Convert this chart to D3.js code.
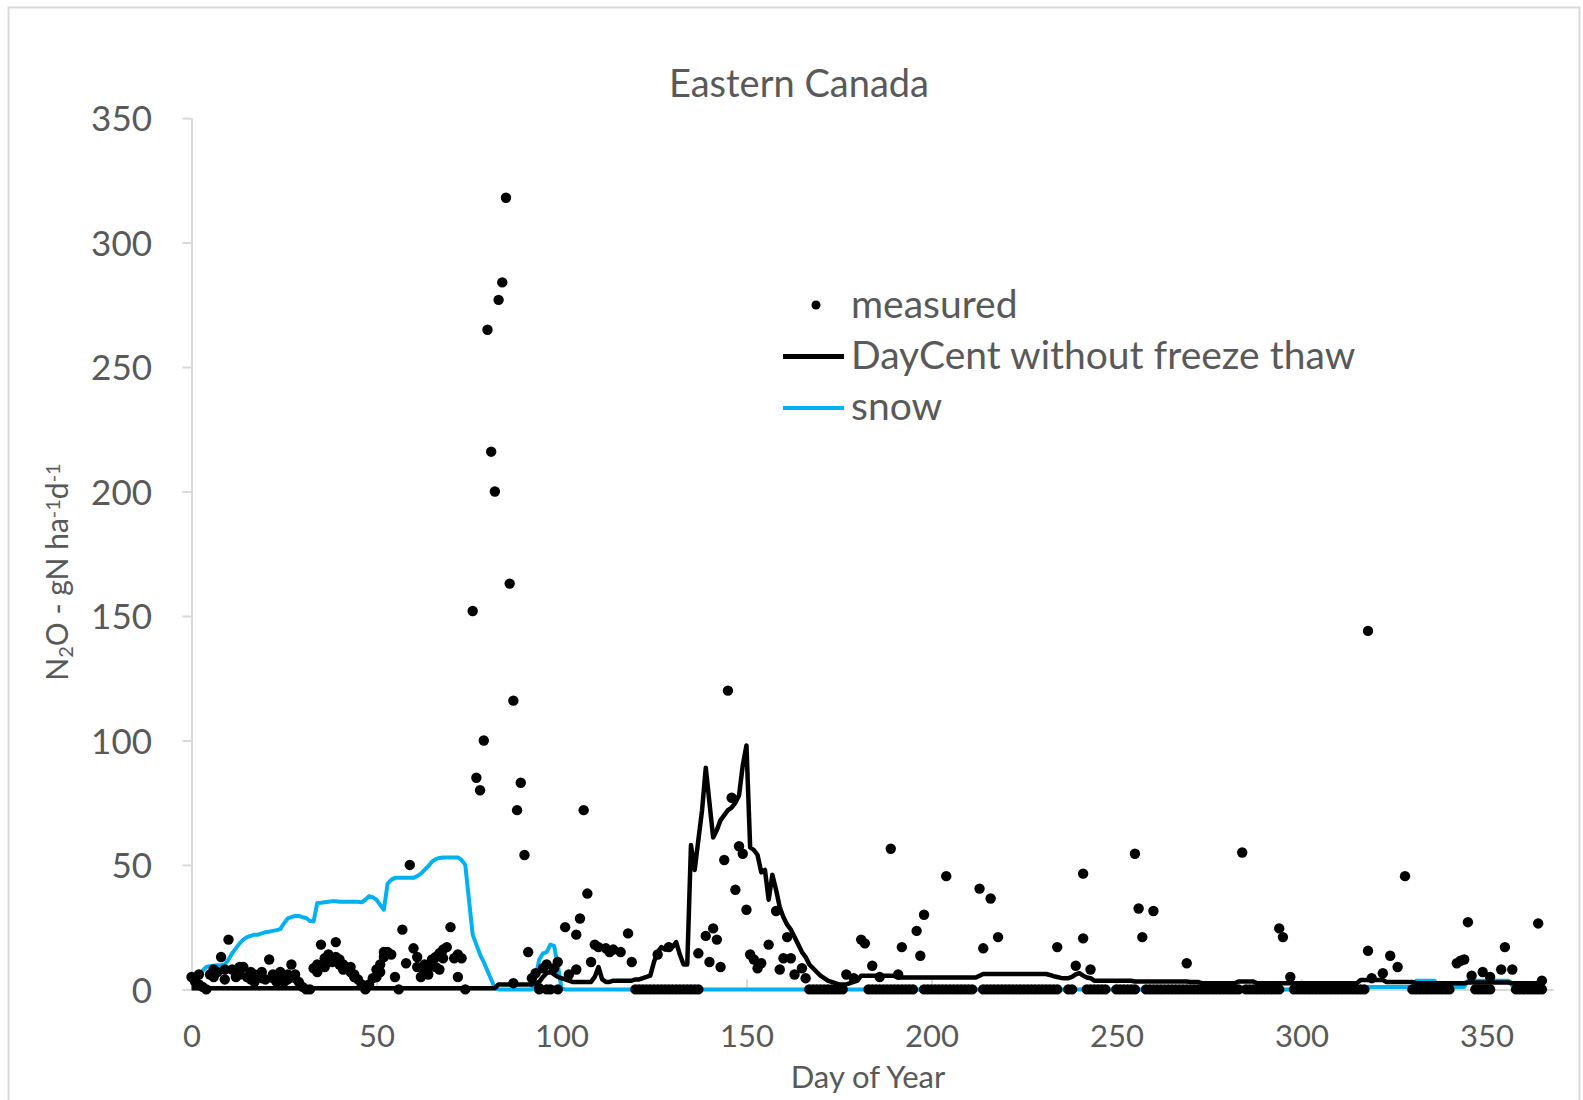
<!DOCTYPE html>
<html>
<head>
<meta charset="utf-8">
<script src="https://cdn.jsdelivr.net/npm/d3@7"></script>
<style>
  body { margin: 0; background: #fff; }
  svg { display: block; }
  text { font-family: Lato, "Open Sans", sans-serif; fill: #595959; }
</style>
</head>
<body>
<svg id="chart" width="1583" height="1100"></svg>
<script>
// Axis ticks
const xTicks = [0, 50, 100, 150, 200, 250, 300, 350];
const yTicks = [0, 50, 100, 150, 200, 250, 300, 350];

// DayCent simulated N2O flux (no freeze-thaw), one value per day of year 0..365
const dayCent = [
  0.5,0.5,0.5,0.5,0.5,0.5,0.5,0.5,0.5,0.5,
  0.5,0.5,0.5,0.5,0.5,0.5,0.5,0.5,0.5,0.5,
  0.5,0.5,0.5,0.5,0.5,0.5,0.5,0.5,0.5,0.5,
  0.5,0.5,0.5,0.5,0.5,0.5,0.5,0.5,0.5,0.5,
  0.5,0.5,0.5,0.5,0.5,0.5,0.5,0.5,0.5,0.5,
  0.5,0.5,0.5,0.5,0.5,0.5,0.5,0.5,0.5,0.5,
  0.5,0.5,0.5,0.5,0.5,0.5,0.5,0.5,0.5,0.5,
  0.5,0.5,0.5,0.5,0.5,0.5,0.5,0.5,0.5,0.5,
  0.5,0.5,0.5,2,2,2,2,2,2,2,
  2,2,2,2.5,3,5,6.5,7,6,5,
  4.5,4,3.5,3,3,3,3,3,3,5,
  9,4,3,3,3.5,3.5,3.5,3.5,3.5,3.5,
  4,4,4.5,5,5.5,11,15,17,16,18,
  17,19,14,10,10,58,48,60,72,89,
  75,61,64,68,70,72,73,75,78,90,
  98,57,56,54,47,48,36,46,40,33,
  29,26,24,21,18,15,13,10,8.5,7,
  5.5,4.5,3.5,3,2.5,2,2,2,2.5,3,
  3.5,5.5,5.5,5.5,5.5,5.5,5.5,5.5,5.5,5.5,
  5.5,4.8,4.8,4.8,4.8,4.8,4.8,4.8,4.8,4.8,
  4.8,4.8,4.8,4.8,4.8,4.8,4.8,4.8,4.8,4.8,
  4.8,4.8,4.8,5.5,6.2,6.2,6.2,6.2,6.2,6.2,
  6.2,6.2,6.2,6.2,6.2,6.2,6.2,6.2,6.2,6.2,
  6.2,6.2,5.8,5.3,5,4.6,4.5,4.5,5,6,
  6.5,5.5,4.8,4.5,3.5,3.5,3.5,3.5,3.5,3.5,
  3.5,3.5,3.5,3.5,3.5,3.2,3.2,3.2,3.2,3.2,
  3.2,3.2,3.2,3.2,3.2,3.2,3.2,3.2,3.2,3.2,
  3,3,3,2.5,2.5,2.5,2.5,2.5,2.5,2.5,
  2.5,2.5,2.5,3.2,3.2,3.2,3.2,3.2,2.5,2.5,
  2.5,2.5,2.5,2.5,2.5,2.5,2.5,2.5,2.5,2.5,
  2.5,2.5,2.5,2.5,2.5,2.5,2.5,2.5,2.5,2.5,
  2.5,2.5,2.5,2.5,2.5,2.5,3.8,3.8,3.8,3.8,
  3.8,3.8,3.8,3,3,3,3,3,3,3,
  3,2.5,2.5,2.5,2.5,2.5,2.5,2.5,2.5,2.5,
  2.5,2.5,2.5,2.5,2.5,2.8,2.8,2.8,2.8,2.8,
  2.8,2.8,2.8,2.8,2.8,2.8,2.8,2.5,2.5,2.5,
  2.5,2.5,2.5,2.5,2.5,2.5
];

// Snow depth, same daily index (null = no record)
const snow = [
  null,3,5,7.5,9,9.3,9.5,9.7,9.8,10,
  12,14.5,16.5,18.5,20,21,21.5,22,22,22.5,
  23,23.2,23.5,23.8,24.2,26.5,28.5,29,29.5,29.5,
  29,28.7,27.5,27.3,34.7,34.8,35,35.2,35.4,35.4,
  35.2,35.2,35.2,35.2,35.2,35.2,35,36,37.4,37,
  36,34,32,42.5,44,44.8,44.8,44.8,44.8,44.8,
  44.8,45.5,46.5,48,49.5,51.3,52.3,52.8,53,53,
  53,53,53,52,50,36,22,18,14,11,
  7.5,4,0.5,0,0,0,0,0,0,0,
  0,0,0,5,12,14.5,15,18,17.5,10,
  0.5,0,0,0,0,0,0,0,0,0,
  0,0,0,0,0,0,0,0,0,0,
  0,0,0,0,0,0,0,0,0,0,
  0,0,0,0,0,0,0,0,0,0,
  0,0,0,0,0,0,0,0,0,0,
  0,0,0,0,0,0,0,0,0,0,
  0,0,0,0,0,0,0,0,0,0,
  0,0,0,0,0,0,0,0,0,0,
  0,0,0,0,0,0,0,0,0,0,
  0,0,0,0,0,0,0,0,0,0,
  0,0,0,0,0,0,0,0,0,0,
  0,0,0,0,0,0,0,0,0,0,
  0,0,0,0,0,0,0,0,0,0,
  0,0,0,0,0,0,0,0,0,0,
  0,0,0,0,0,0,0,0,0,0,
  0,0,0,0,0,0,0,0,0,0,
  0,0,0,0,0,0,0,0,0,0,
  0,0,0,0,0,0,0,0,0,0,
  0,0,0,0,0,0,0,0,0,0,
  0,0,0,0,0,0,0,0,0,0,
  0,0,0,0,0,0,0,0,0,0,
  0,0,0,0,0,1,1,1,1,1,
  1,1,1,1,1,1,1,1,1,1,
  1,3.5,3.5,3.5,3.5,3.5,3.5,1,1,1,
  1,1,1,1,1,3.5,3.5,3.5,3.5,3.5,
  3.5,3.5,3.5,3.5,3.5,3.5,3.5,1.5,1.5,1.5,
  1.5,1.5,1.5,1.5,1.5,1.5
];

// Measured N2O flux, [day, gN ha-1 d-1]
const measured = [
  [0,5],[1,3],[2,2],[2,6],[3,1],[5,6],[6,5],[6,8],[7,7],[8,13],[9,8],[9,4],[10,20],
  [11,8],[12,7],[12,5],[13,6],[13,9],[14,9],[15,5],[16,7],[16,4],[17,6],[17,3],[18,5],[19,4.5],[19,7],[20,4],
  [21,12],[22,4.5],[22,6],[23,4],[23,3],[24,5],[24,7],[25,3],[26,4],[26,6],[27,10],[28,4.5],[28,6],[29,3],[30,1],
  [33,8.5],[34,10],[34,7],[35,18],[36,12.5],[36,9],[37,12],[37,14],[38,11],[39,19],[39,13],[40,12],[40,10],[41,10],[41,8],
  [42,8.5],[43,7],[43,9],[44,6],[44,5],[45,4],[46,2],[48,2],[49,4.5],[50,8],[50,5],[51,10],[51,7],[52,13],[52,15],
  [53,15],[54,14],[55,5],[57,24],[58,10.5],[59,50],[60,16.5],[61,13],[61,9],[62,5],[63,7],[63,10],
  [64,8.5],[64,6],[65,12],[66,13],[66,9],[67,14.5],[67,8],[68,12.5],[68,16],[69,17],[70,25],[71,12.5],[72,5],[72,14],[73,12.5],
  [76,152],[77,85],[78,80],[79,100],[80,265],[81,216],[82,200],[83,277],[84,284],[85,318],
  [86,163],[87,116],[87,2.5],[88,72],[89,83],[90,54],[91,15],
  [92,4.5],[93,6.5],[94,0.5],[95,8.5],[96,10],[98,8.5],[99,11],[101,25],[102,6],[104,22],
  [104,8],[105,28.5],[106,72],[107,38.5],[108,11],[109,18],[110,17],[112,16.5],[113,15],[114,16],
  [116,15],[118,22.5],[119,11],[126,14],[129,17],
  [137,14.5],[139,21.5],[140,11],[141,24.5],[142,20],[143,9],[144,52],[145,120],[146,77],[147,40],
  [148,57.5],[149,54.5],[150,32],[151,14],[152,12],[153,8.5],[154,10.5],[156,18],[158,31.5],[159,8],
  [160,12.5],[161,21],[162,12.5],[163,6],[165,8.5],[166,4.5],
  [177,6],[179,4.5],[181,20],[182,18.5],[184,9.5],[186,5],[189,56.5],[191,6],[192,17],[196,23.5],
  [197,13.5],[198,30],[204,45.5],[213,40.5],[214,16.5],[216,36.5],[218,21],[234,17],[239,9.5],[241,46.5],
  [241,20.5],[243,8],[255,54.5],[256,32.5],[257,21],[260,31.5],[269,10.5],
  [284,55],[294,24.5],[295,21],[297,5],[318,144],[318,15.5],[319,4.5],[322,6.5],[324,13.5],[326,9],
  [328,45.5],[342,10.5],[343,11.5],[344,12],[345,27],[346,5.5],[349,7],[351,5],[354,8],[355,17],
  [357,8],[364,26.5],[365,3.5]
];

// Days on which the measured flux was zero
const measuredZeroDays = [
  4,31,32,47,56,74,94,96,97,99,
  120,121,122,123,124,125,126,127,128,129,130,131,132,133,134,135,136,137,
  167,168,169,170,171,172,173,174,175,176,
  183,184,185,186,187,188,189,190,191,192,193,194,195,
  198,199,200,201,202,203,204,205,206,207,208,209,210,211,
  214,215,216,217,218,219,220,221,222,223,224,225,226,227,228,229,230,231,232,233,234,
  237,238,
  242,243,244,245,246,247,
  250,251,252,253,254,255,
  258,259,260,261,262,263,264,265,266,267,268,269,270,271,272,273,274,275,276,277,278,279,280,281,282,283,
  285,286,287,288,289,290,291,292,293,294,
  298,299,300,301,302,303,304,305,306,307,308,309,310,311,312,313,314,315,316,317,
  330,331,332,333,334,335,336,337,338,339,340,
  347,348,349,350,351,
  358,359,360,361,362,363,364,365
];

const svg = d3.select('#chart');

const x = d3.scaleLinear().domain([0, 368]).range([191.5, 1553]);
const y = d3.scaleLinear().domain([0, 350]).range([989.4, 118.1]);

// chart frame
svg.append('rect')
  .attr('x', 8.5).attr('y', 7.5)
  .attr('width', 1571).attr('height', 1110)
  .attr('fill', 'none').attr('stroke', '#d9d9d9').attr('stroke-width', 2);

// title
svg.append('text')
  .attr('x', 799).attr('y', 97)
  .attr('text-anchor', 'middle')
  .style('font-size', '38px')
  .text('Eastern Canada');

// y axis
const yAxis = svg.append('g')
  .attr('transform', `translate(${x(0)},0)`)
  .call(d3.axisLeft(y).tickValues(yTicks).tickSize(9).tickSizeOuter(0));
yAxis.select('.domain').attr('stroke', '#d9d9d9').attr('stroke-width', 2);
yAxis.selectAll('.tick line').attr('stroke', '#d9d9d9').attr('stroke-width', 2);
yAxis.selectAll('.tick text')
  .attr('x', -39.5).attr('dy', '0.36em')
  .attr('fill', '#595959')
  .style('font-size', '35px').style('font-family', 'Lato, "Open Sans", sans-serif');

// x axis
const xAxis = svg.append('g')
  .attr('transform', `translate(0,${y(0)})`)
  .call(d3.axisBottom(x).tickValues(xTicks).tickSize(-10).tickSizeOuter(0));
xAxis.select('.domain').attr('stroke', '#d9d9d9').attr('stroke-width', 2);
xAxis.selectAll('.tick line').attr('stroke', '#d9d9d9').attr('stroke-width', 2);
xAxis.selectAll('.tick text')
  .attr('y', 58).attr('dy', 0)
  .attr('fill', '#595959')
  .style('font-size', '31px').style('font-family', 'Lato, "Open Sans", sans-serif');

// axis titles
svg.append('text')
  .attr('x', 868).attr('y', 1088)
  .attr('text-anchor', 'middle')
  .style('font-size', '31px')
  .text('Day of Year');

const yTitle = svg.append('text')
  .attr('transform', 'translate(68,572) rotate(-90)')
  .attr('text-anchor', 'middle')
  .style('font-size', '30px');
yTitle.append('tspan').text('N');
yTitle.append('tspan').attr('baseline-shift', '-25%').style('font-size', '20px').text('2');
yTitle.append('tspan').text('O - gN ha');
yTitle.append('tspan').attr('baseline-shift', '40%').style('font-size', '20px').text('-1');
yTitle.append('tspan').text('d');
yTitle.append('tspan').attr('baseline-shift', '40%').style('font-size', '20px').text('-1');

// series
const plot = svg.append('g');

const snowLine = d3.line()
  .defined(d => d != null)
  .x((d, i) => x(i))
  .y(d => y(d));
plot.append('path')
  .datum(snow)
  .attr('d', snowLine)
  .attr('fill', 'none')
  .attr('stroke', '#00b0f0')
  .attr('stroke-width', 4)
  .attr('stroke-linejoin', 'round');

const fluxLine = d3.line()
  .x((d, i) => x(i))
  .y(d => y(d));
plot.append('path')
  .datum(dayCent)
  .attr('d', fluxLine)
  .attr('fill', 'none')
  .attr('stroke', '#000')
  .attr('stroke-width', 4.5)
  .attr('stroke-linejoin', 'round');

const points = measured.concat(measuredZeroDays.map(d => [d, 0]));
plot.selectAll('circle.m')
  .data(points)
  .join('circle')
  .attr('class', 'm')
  .attr('cx', d => x(d[0]))
  .attr('cy', d => y(d[1]))
  .attr('r', 5.2)
  .attr('fill', '#000');

// legend
const legend = svg.append('g');
legend.append('circle').attr('cx', 816).attr('cy', 305).attr('r', 4.5).attr('fill', '#000');
legend.append('text').attr('x', 851).attr('y', 318).style('font-size', '39px').text('measured');
legend.append('line').attr('x1', 783).attr('x2', 844).attr('y1', 356.5).attr('y2', 356.5)
  .attr('stroke', '#000').attr('stroke-width', 5);
legend.append('text').attr('x', 851).attr('y', 369).style('font-size', '39px').text('DayCent without freeze thaw');
legend.append('line').attr('x1', 783).attr('x2', 844).attr('y1', 408).attr('y2', 408)
  .attr('stroke', '#00b0f0').attr('stroke-width', 4);
legend.append('text').attr('x', 851).attr('y', 420).style('font-size', '39px').text('snow');
</script>
</body>
</html>
